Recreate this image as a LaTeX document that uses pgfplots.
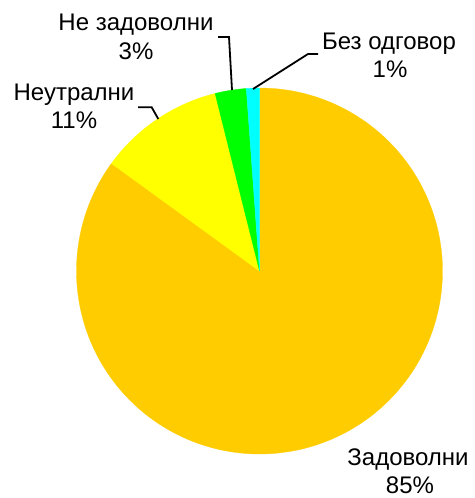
\documentclass[border=0pt]{standalone}
\usepackage{pgfplots}
\pgfplotsset{compat=1.18}
\usepackage{fontspec}
\setmainfont{Liberation Sans}
\definecolor{cOrange}{HTML}{FFCC00}
\definecolor{cYellow}{HTML}{FFFF00}
\definecolor{cGreen}{HTML}{00FF00}
\definecolor{cCyan}{HTML}{00FFFF}
\tikzset{lbl/.style={font=\fontsize{24}{28}\selectfont, anchor=base, inner sep=0pt, outer sep=0pt}}
% shares (percent), clockwise from 12 o'clock
\def\vA{85.0}  % Задоволни
\def\vB{11.1}  % Неутрални
\def\vC{2.75}  % Не задоволни
\def\vD{1.15}  % Без одговор
\pgfmathsetmacro{\aZ}{90}
\pgfmathsetmacro{\aA}{\aZ-3.6*\vA}
\pgfmathsetmacro{\aB}{\aA-3.6*\vB}
\pgfmathsetmacro{\aC}{\aB-3.6*\vC}
\pgfmathsetmacro{\aD}{\aC-3.6*\vD}
\def\cx{259.5}
\def\cy{271}
\def\R{183}
\begin{document}
\begin{tikzpicture}
\begin{axis}[
  at={(0,0)}, anchor=south west,
  scale only axis, width=474pt, height=498pt,
  xmin=0, xmax=474, ymin=0, ymax=498, y dir=reverse,
  hide axis, clip=false,
]
\addplot[fill=cOrange, draw=cOrange, line width=0.3pt, domain=\aA:\aZ, samples=200]
  ({\cx+\R*cos(x)}, {\cy-\R*sin(x)}) -- (axis cs:\cx,\cy) -- cycle;
\addplot[fill=cYellow, draw=cYellow, line width=0.3pt, domain=\aB:\aA, samples=40]
  ({\cx+\R*cos(x)}, {\cy-\R*sin(x)}) -- (axis cs:\cx,\cy) -- cycle;
\addplot[fill=cGreen, draw=cGreen, line width=0.3pt, domain=\aC:\aB, samples=15]
  ({\cx+\R*cos(x)}, {\cy-\R*sin(x)}) -- (axis cs:\cx,\cy) -- cycle;
\addplot[fill=cCyan, draw=cCyan, line width=0.3pt, domain=\aD:\aC, samples=8]
  ({\cx+\R*cos(x)}, {\cy-\R*sin(x)}) -- (axis cs:\cx,\cy) -- cycle;
% leader lines
\addplot[black, line width=1.8pt, mark=none] coordinates {(138,107.3) (151.7,107.3) (158.3,119)};
\addplot[black, line width=1.8pt, mark=none] coordinates {(218,37) (229,37) (232,90)};
\addplot[black, line width=1.8pt, mark=none] coordinates {(318,54) (308,54) (253,89)};
% labels
\node[lbl] at (axis cs:136,30.7) {Не задоволни};
\node[lbl] at (axis cs:136,59) {3\%};
\node[lbl] at (axis cs:74,100) {Неутрални};
\node[lbl] at (axis cs:74,128.3) {11\%};
\node[lbl] at (axis cs:389,49.5) {Без одговор};
\node[lbl] at (axis cs:390,77.5) {1\%};
\node[lbl] at (axis cs:408,465.2) {Задоволни};
\node[lbl] at (axis cs:410,493.3) {85\%};
\end{axis}
\pgfresetboundingbox
\path (0,0) rectangle (474pt,498pt);
\end{tikzpicture}
\end{document}
